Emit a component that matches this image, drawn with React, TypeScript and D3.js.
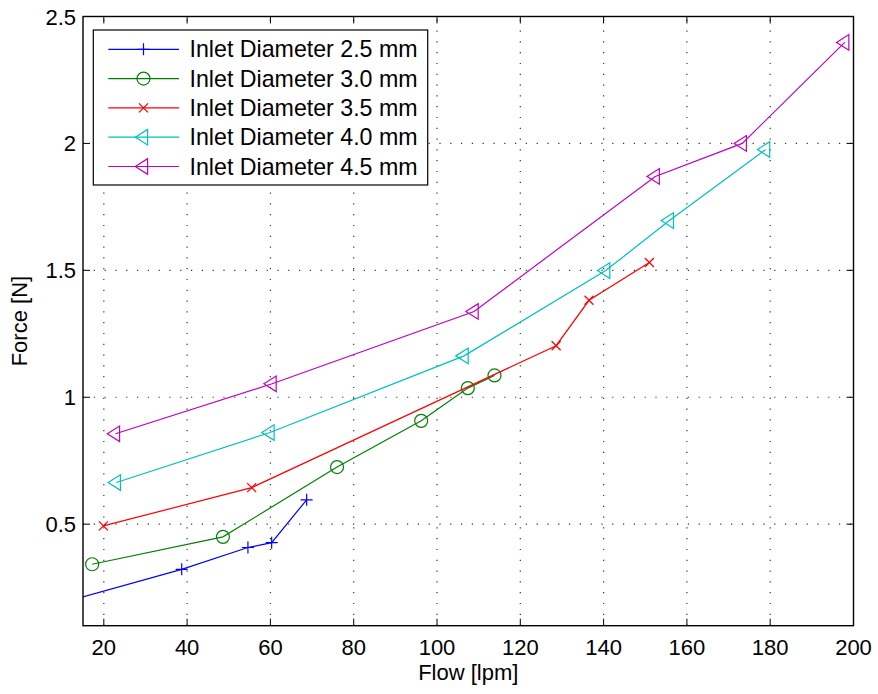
import React from "react";
import * as d3 from "d3";

const xTicks = [20, 40, 60, 80, 100, 120, 140, 160, 180, 200];
const yTicks = [0.5, 1, 1.5, 2, 2.5];

const flow25 = [12, 38.7, 54.6, 60.3, 68.7];
const force25 = [0.2, 0.322, 0.408, 0.427, 0.596];

const flow30 = [17.2, 48.6, 76.0, 96.2, 107.4, 113.8];
const force30 = [0.342, 0.45, 0.725, 0.907, 1.036, 1.086];

const flow35 = [19.9, 55.5, 128.6, 136.5, 151.0];
const force35 = [0.493, 0.644, 1.203, 1.382, 1.531];

const flow40 = [23.0, 59.9, 106.5, 140.5, 155.8, 178.9];
const force40 = [0.664, 0.861, 1.163, 1.499, 1.696, 1.976];

const flow45 = [22.8, 60.4, 108.9, 152.4, 173.3, 197.9];
const force45 = [0.856, 1.053, 1.338, 1.87, 2.0, 2.398];

const seriesNames = [
  "Inlet Diameter 2.5 mm",
  "Inlet Diameter 3.0 mm",
  "Inlet Diameter 3.5 mm",
  "Inlet Diameter 4.0 mm",
  "Inlet Diameter 4.5 mm",
];
const seriesColors = ["#0000ff", "#008000", "#ff0000", "#00bfbf", "#bf00bf"];
const seriesMarkers = ["plus", "circle", "x", "tri", "tri"];
const seriesFlows = [flow25, flow30, flow35, flow40, flow45];
const seriesForces = [force25, force30, force35, force40, force45];

const W = 878;
const H = 694;
const L = 83;
const R = 853.5;
const T = 16.5;
const B = 625.7;
const FONT = "'Liberation Sans', Arial, Helvetica, sans-serif";

function Marker({ kind, x, y, color }: { kind: string; x: number; y: number; color: string }) {
  const sw = 1.2;
  if (kind === "plus") {
    return (
      <path d={`M${x - 6},${y}H${x + 6}M${x},${y - 6}V${y + 6}`} stroke={color} strokeWidth={sw} fill="none" />
    );
  }
  if (kind === "circle") {
    return <circle cx={x} cy={y} r={6.5} stroke={color} strokeWidth={sw} fill="none" />;
  }
  if (kind === "x") {
    return (
      <path d={`M${x - 4.5},${y - 4.5}L${x + 4.5},${y + 4.5}M${x - 4.5},${y + 4.5}L${x + 4.5},${y - 4.5}`} stroke={color} strokeWidth={sw} fill="none" />
    );
  }
  return (
    <path d={`M${x - 8.2},${y}L${x + 4.1},${y - 7.8}L${x + 4.1},${y + 7.8}Z`} stroke={color} strokeWidth={sw} fill="none" />
  );
}

export default function App() {
  const x = d3.scaleLinear().domain([15, 200]).range([L, R]);
  const y = d3.scaleLinear().domain([0.1, 2.5]).range([B, T]);
  const line = d3
    .line<[number, number]>()
    .x((d) => x(d[0]))
    .y((d) => y(d[1]));

  const gridX = xTicks.filter((t) => t < 200);
  const gridY = yTicks.filter((t) => t < 2.5);
  const tickLen = 7;

  const legX = 93.3;
  const legY = 30;
  const legW = 334.4;
  const legH = 155;
  const legRows = [49.3, 78.6, 107.9, 137.2, 166.5];

  return (
    <svg width={W} height={H} style={{ position: "absolute", left: 0, top: 0, background: "#fff" }} fontFamily={FONT}>
      <rect x={0} y={0} width={W} height={H} fill="#fff" />
      <defs>
        <clipPath id="plotClip">
          <rect x={L} y={T} width={R - L} height={B - T} />
        </clipPath>
      </defs>
      {/* grid */}
      {gridX.map((t) => (
        <line key={"gx" + t} x1={x(t)} x2={x(t)} y1={B} y2={T} stroke="#333" strokeWidth={1.2} strokeDasharray="1.2 9.6" />
      ))}
      {gridY.map((t) => (
        <line key={"gy" + t} x1={L} x2={R} y1={y(t)} y2={y(t)} stroke="#333" strokeWidth={1.2} strokeDasharray="1.2 9.6" />
      ))}
      {/* ticks */}
      {xTicks.map((t) => (
        <g key={"tx" + t}>
          <line x1={x(t)} x2={x(t)} y1={B} y2={B - tickLen} stroke="#000" strokeWidth={1} />
          <line x1={x(t)} x2={x(t)} y1={T} y2={T + tickLen} stroke="#000" strokeWidth={1} />
          <text x={x(t)} y={655} textAnchor="middle" fontSize={22} fill="#000">
            {t}
          </text>
        </g>
      ))}
      {yTicks.map((t) => (
        <g key={"ty" + t}>
          <line x1={L} x2={L + tickLen} y1={y(t)} y2={y(t)} stroke="#000" strokeWidth={1} />
          <line x1={R} x2={R - tickLen} y1={y(t)} y2={y(t)} stroke="#000" strokeWidth={1} />
          <text x={76} y={y(t) + 8} textAnchor="end" fontSize={22} fill="#000">
            {String(t)}
          </text>
        </g>
      ))}
      {/* series */}
      <g clipPath="url(#plotClip)">
        {seriesFlows.map((fl, i) => {
          const pts: [number, number][] = fl.map((f, j) => [f, seriesForces[i][j]]);
          return (
            <g key={"s" + i}>
              <path d={line(pts) || ""} fill="none" stroke={seriesColors[i]} strokeWidth={1.2} />
              {pts.map((p, j) => (
                <Marker key={j} kind={seriesMarkers[i]} x={x(p[0])} y={y(p[1])} color={seriesColors[i]} />
              ))}
            </g>
          );
        })}
      </g>
      {/* axes box */}
      <rect x={L} y={T} width={R - L} height={B - T} fill="none" stroke="#000" strokeWidth={1.4} />
      {/* labels */}
      <text x={(L + R) / 2} y={680} textAnchor="middle" fontSize={22} fill="#000">
        Flow [lpm]
      </text>
      <text transform={`translate(27,${(T + B) / 2}) rotate(-90)`} textAnchor="middle" fontSize={22} fill="#000">
        Force [N]
      </text>
      {/* legend */}
      <rect x={legX} y={legY} width={legW} height={legH} fill="#fff" stroke="#000" strokeWidth={1.2} />
      {seriesNames.map((n, i) => (
        <g key={"l" + i}>
          <line x1={108.3} x2={179} y1={legRows[i]} y2={legRows[i]} stroke={seriesColors[i]} strokeWidth={1.2} />
          <Marker kind={seriesMarkers[i]} x={143.5} y={legRows[i]} color={seriesColors[i]} />
          <text x={189.5} y={legRows[i] + 8} fontSize={23.2} fill="#000">
            {n}
          </text>
        </g>
      ))}
    </svg>
  );
}
